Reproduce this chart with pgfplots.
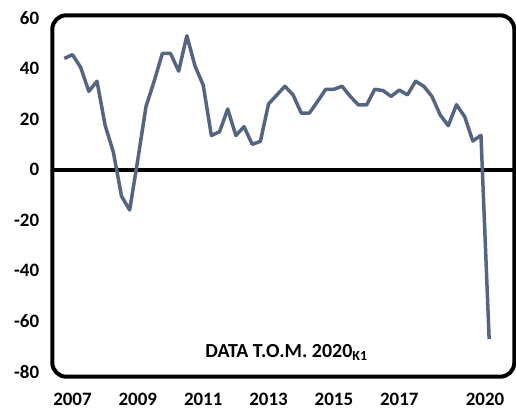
\documentclass[border=0pt]{standalone}
\usepackage{pgfplots}
\pgfplotsset{compat=1.18}
\usepackage{fontspec}
\setmainfont{Carlito}
\definecolor{lineblue}{RGB}{84,101,131}
\pgfplotstableread{
i v
0 44
1 45.5
2 40.5
3 31
4 35
5 17.5
6 7
7 -10.5
8 -16
9 4
10 25
11 35
12 46
13 46
14 39
15 53
16 41
17 33.5
18 13.5
19 15
20 24
21 13.5
22 17
23 10
24 11.2
25 26
26 29.5
27 33
28 29.6
29 22.4
30 22.4
31 27
32 31.8
33 31.8
34 33
35 29
36 25.6
37 25.6
38 31.8
39 31.3
40 29
41 31.5
42 29.6
43 35
44 33
45 29
46 21.7
47 17.4
48 25.7
49 21
50 11.3
51 13.6
52 -67
}\datatable
\begin{document}
\begin{tikzpicture}
\useasboundingbox (-52.3bp,-34.3bp) rectangle (463.7bp,376.7bp);
\begin{axis}[
  at={(0,0)}, anchor=south west,
  scale only axis,
  width=462bp, height=361.4bp,
  xmin=-1.47, xmax=55.08,
  ymin=-82, ymax=61.1,
  axis line style={draw=none},
  xtick={1,9,17,25,33,41,51.5},
  xticklabels={2007,2009,2011,2013,2015,2017,2020},
  ytick={-80,-60,-40,-20,0,20,40,60},
  major tick length=0pt,
  /pgf/number format/assume math mode=true,
  ticklabel style={font=\fontsize{19}{21}\selectfont\bfseries, inner sep=0pt},
  yticklabel style={anchor=east, xshift=-13bp},
  xticklabel style={anchor=center, yshift=-22.5bp},
  clip=false,
]
\draw[black, line width=4bp] (axis cs:-1.47,0) -- (axis cs:55.08,0);
\addplot[lineblue, line width=3.5bp, line join=round, mark=none] table[x=i, y=v] {\datatable};
\draw[black, line width=4bp, rounded corners=14bp] (rel axis cs:0,0) rectangle (rel axis cs:1,1);
\node[font=\fontsize{20}{22}\selectfont\bfseries, anchor=base, inner sep=0pt] at (axis cs:27.2,-74.5) {DATA T.O.M. 2020\textsubscript{K1}};
\end{axis}
\end{tikzpicture}
\end{document}
